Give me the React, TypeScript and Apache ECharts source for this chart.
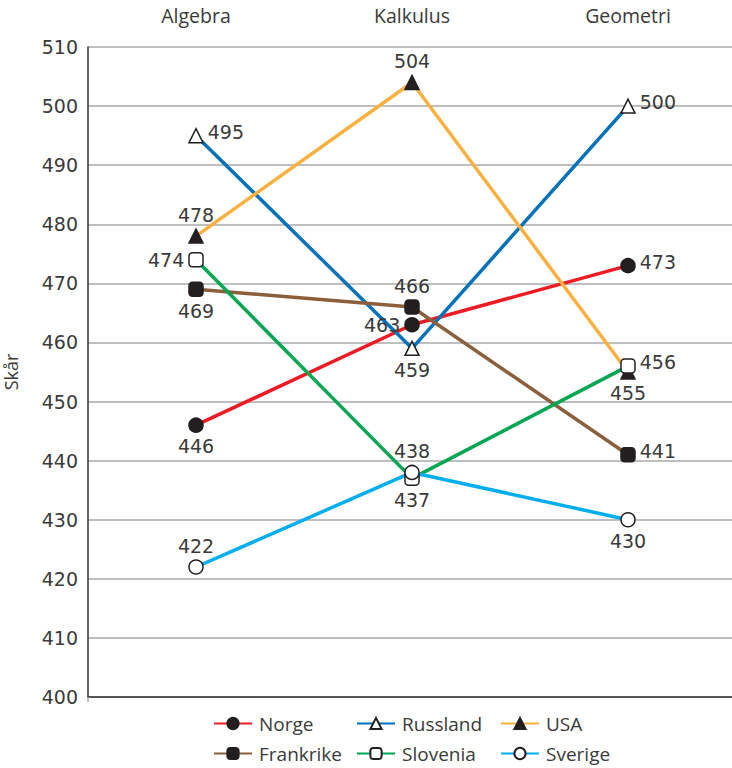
import React, { useEffect, useRef } from "react";
import * as echarts from "echarts";

const categories = ["Algebra", "Kalkulus", "Geometri"];
const countries = ["Norge", "Russland", "USA", "Frankrike", "Slovenia", "Sverige"];

const norge = [446, 463, 473];
const russland = [495, 459, 500];
const usa = [478, 504, 455];
const frankrike = [469, 466, 441];
const slovenia = [474, 437, 456];
const sverige = [422, 438, 430];

const norgePos = ["bottom", "left", "right"];
const russlandPos = ["right", "bottom", "right"];
const usaPos = ["top", "top", "bottom"];
const frankrikePos = ["bottom", "top", "right"];
const sloveniaPos = ["left", "bottom", "right"];
const sverigePos = ["top", "top", "bottom"];

const FONT = "'Open Sans', 'Noto Sans', sans-serif";
const NUMFONT = "'DejaVu Sans', 'Open Sans', sans-serif";
const TEXT = "#3a3a3a";

function makeSeries(
  name: string,
  values: number[],
  positions: string[],
  lineColor: string,
  symbol: string,
  fill: string
) {
  return {
    name,
    type: "line",
    data: values.map((v, i) => ({
      value: v,
      label: {
        position: positions[i],
        offset: positions[i] === "right" ? [0, -4] : [0, 0],
      },
    })),
    symbol,
    symbolSize: 14,
    showAllSymbol: true,
    lineStyle: { color: lineColor, width: 3.5 },
    itemStyle: { color: fill, borderColor: "#231f20", borderWidth: 1.5 },
    label: {
      show: true,
      fontSize: 19,
      color: TEXT,
      fontFamily: NUMFONT,
      distance: 4,
    },
    emphasis: { disabled: true },
  };
}

export default function App() {
  const ref = useRef<HTMLDivElement>(null);
  useEffect(() => {
    if (!ref.current) return;
    const chart = echarts.init(ref.current, undefined, { renderer: "svg" });
    const legendCols = [213, 356, 500];
    const legendRows = [714, 744];
    const legends = countries.map((c, i) => ({
      data: [c],
      left: legendCols[i % 3],
      top: legendRows[Math.floor(i / 3)],
      padding: 0,
      itemWidth: 38,
      itemHeight: 14,
      itemGap: 0,
      textStyle: { fontSize: 19, color: TEXT, fontFamily: FONT, padding: [0, 0, 0, 2] },
      selectedMode: false,
    }));
    chart.setOption({
      animation: false,
      textStyle: { fontFamily: FONT },
      grid: {
        left: 88,
        right: -4,
        top: 47,
        bottom: 71,
        containLabel: false,
        outerBoundsMode: "none",
      },
      legend: legends,
      xAxis: [
        {
          type: "category",
          data: categories,
          position: "bottom",
          axisLine: { show: true, lineStyle: { color: "#333", width: 1.5 } },
          axisTick: {
            show: true,
            length: 5,
            interval: (i: number) => i === 2,
            lineStyle: { color: "#aaa", width: 1.5 },
          },
          axisLabel: { show: false },
          splitLine: { show: false },
        },
        {
          type: "category",
          data: categories,
          position: "top",
          axisLine: { show: false },
          axisTick: { show: false },
          axisLabel: { show: true, fontSize: 19.5, color: TEXT, fontFamily: FONT, margin: 22 },
          splitLine: { show: false },
        },
      ],
      yAxis: {
        type: "value",
        min: 400,
        max: 510,
        interval: 10,
        name: "Skår",
        nameLocation: "middle",
        nameGap: 68,
        nameTextStyle: { fontSize: 18, color: TEXT, fontFamily: FONT },
        axisLine: { show: true, lineStyle: { color: "#333", width: 1.5 } },
        axisTick: { show: false },
        axisLabel: { fontSize: 19, color: TEXT, fontFamily: NUMFONT, margin: 10 },
        splitLine: { show: true, lineStyle: { color: "#aaa", width: 1.5 } },
      },
      series: [
        makeSeries("Norge", norge, norgePos, "#ed1c24", "circle", "#231f20"),
        makeSeries("Russland", russland, russlandPos, "#0072bc", "triangle", "#ffffff"),
        makeSeries("USA", usa, usaPos, "#fbb040", "triangle", "#231f20"),
        makeSeries("Frankrike", frankrike, frankrikePos, "#8b5e3c", "roundRect", "#231f20"),
        makeSeries("Slovenia", slovenia, sloveniaPos, "#00a651", "roundRect", "#ffffff"),
        makeSeries("Sverige", sverige, sverigePos, "#00aeef", "circle", "#ffffff"),
      ],
    });
    return () => chart.dispose();
  }, []);
  return <div ref={ref} style={{ width: 732, height: 768, position: "absolute", left: 0, top: 0 }} />;
}
